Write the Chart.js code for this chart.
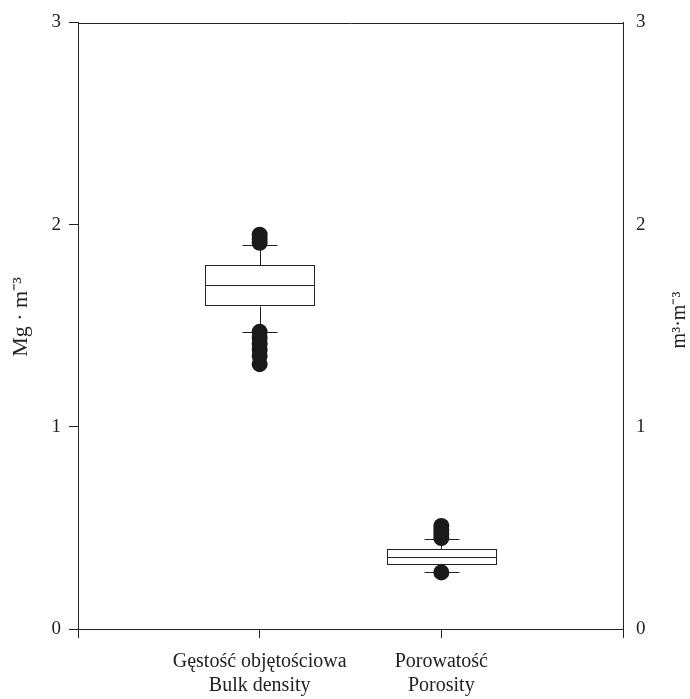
<!DOCTYPE html>
<html>
<head>
<meta charset="utf-8">
<script src="https://cdn.jsdelivr.net/npm/chart.js@4"></script>
<style>
  html, body { margin: 0; padding: 0; background: #fff; }
  #wrap { width: 690px; height: 699px; position: relative; }
</style>
</head>
<body>
<div id="wrap"><canvas id="chart"></canvas></div>
<script>
const categorias = [["Gęstość objętościowa", "Bulk density"], ["Porowatość", "Porosity"]];
const posiciones = [1, 2];
const bigoteInf = [1.47, 0.28];
const cuartil1 = [1.60, 0.32];
const mediana = [1.70, 0.355];
const cuartil3 = [1.80, 0.395];
const bigoteSup = [1.90, 0.445];
const atipicosDensidad = [1.95, 1.93, 1.91, 1.47, 1.44, 1.41, 1.38, 1.35, 1.31];
const atipicosPorosidad = [0.51, 0.49, 0.47, 0.45, 0.28];
const ticksY = [0, 1, 2, 3];

const tituloIzq = "Mg · m⁻³";
const tituloDer = "m³·m⁻³";

const COLOR = "#222";
const FUENTE = "'Liberation Serif', 'Times New Roman', serif";

// Puntos atípicos como scatter
const puntos = [
  ...atipicosDensidad.map((v) => ({ x: posiciones[0], y: v })),
  ...atipicosPorosidad.map((v) => ({ x: posiciones[1], y: v })),
];

// Plugin: cajas, bigotes, marco superior y títulos de los ejes
const cajas = {
  id: "cajas",
  beforeDatasetsDraw(chart) {
    const { ctx, chartArea, scales } = chart;
    const xs = scales.x, ys = scales.y;
    const px = (v) => Math.round(v) + 0.5;
    ctx.save();
    ctx.strokeStyle = COLOR;
    ctx.lineWidth = 1;
    posiciones.forEach((p, i) => {
      const xc = xs.getPixelForValue(p);
      const xl = xs.getPixelForValue(p - 0.3);
      const xr = xs.getPixelForValue(p + 0.3);
      const cl = xs.getPixelForValue(p - 0.095);
      const cr = xs.getPixelForValue(p + 0.095);
      const yq1 = ys.getPixelForValue(cuartil1[i]);
      const yq3 = ys.getPixelForValue(cuartil3[i]);
      const ym = ys.getPixelForValue(mediana[i]);
      const ylo = ys.getPixelForValue(bigoteInf[i]);
      const yhi = ys.getPixelForValue(bigoteSup[i]);
      ctx.beginPath();
      // bigotes
      ctx.moveTo(px(xc), px(yq3)); ctx.lineTo(px(xc), px(yhi));
      ctx.moveTo(px(xc), px(yq1)); ctx.lineTo(px(xc), px(ylo));
      ctx.moveTo(px(cl), px(yhi)); ctx.lineTo(px(cr), px(yhi));
      ctx.moveTo(px(cl), px(ylo)); ctx.lineTo(px(cr), px(ylo));
      ctx.stroke();
      // caja y mediana
      ctx.fillStyle = "#fff";
      ctx.fillRect(px(xl), px(yq3), Math.round(xr - xl), Math.round(yq1 - yq3));
      ctx.strokeRect(px(xl), px(yq3), Math.round(xr - xl), Math.round(yq1 - yq3));
      ctx.beginPath();
      ctx.moveTo(px(xl), px(ym)); ctx.lineTo(px(xr), px(ym));
      ctx.stroke();
    });
    // marco superior
    ctx.beginPath();
    ctx.moveTo(chartArea.left, px(chartArea.top));
    ctx.lineTo(chartArea.right, px(chartArea.top));
    ctx.stroke();
    ctx.restore();
  },
  afterDraw(chart) {
    const { ctx } = chart;
    ctx.save();
    ctx.fillStyle = COLOR;
    ctx.textAlign = "center";
    ctx.textBaseline = "middle";
    [[21, 317, 22, tituloIzq], [680, 320, 20, tituloDer]].forEach(([x, y, tam, t]) => {
      ctx.save();
      ctx.font = `${tam}px ${FUENTE}`;
      ctx.translate(x, y);
      ctx.rotate(-Math.PI / 2);
      ctx.fillText(t, 0, 0);
      ctx.restore();
    });
    ctx.restore();
  },
};

const ejeComun = {
  type: "linear",
  min: 0,
  max: 3,
  border: { display: true, color: COLOR, width: 1 },
};

new Chart(document.getElementById("chart"), {
  type: "scatter",
  data: {
    datasets: [
      {
        data: puntos,
        backgroundColor: "#1a1a1a",
        borderColor: "#1a1a1a",
        pointRadius: 8,
        pointHoverRadius: 8,
        borderWidth: 0,
      },
    ],
  },
  options: {
    responsive: true,
    maintainAspectRatio: false,
    animation: false,
    events: [],
    layout: { padding: { top: 21, left: 0, right: 0, bottom: 0 } },
    plugins: { legend: { display: false }, tooltip: { enabled: false } },
    scales: {
      x: {
        ...ejeComun,
        position: "bottom",
        grid: { display: true, drawOnChartArea: false, drawTicks: true, tickLength: 9, color: COLOR },
        ticks: {
          stepSize: 1,
          autoSkip: false,
          maxRotation: 0,
          padding: 12,
          color: COLOR,
          font: { family: FUENTE, size: 20, lineHeight: 1.2 },
          callback: (v) => {
            const i = posiciones.indexOf(v);
            return i >= 0 ? categorias[i] : "";
          },
        },
        afterFit: (s) => { s.height = 70; },
      },
      y: {
        ...ejeComun,
        position: "left",
        grid: { display: true, drawOnChartArea: false, drawTicks: true, tickLength: 9, color: COLOR },
        ticks: {
          stepSize: 1,
          padding: 8,
          color: COLOR,
          font: { family: FUENTE, size: 19, lineHeight: 1 },
          callback: (v) => (ticksY.includes(v) ? String(v) : ""),
        },
        afterFit: (s) => { s.width = 78; },
      },
      y2: {
        ...ejeComun,
        position: "right",
        grid: { display: false, drawOnChartArea: false, drawTicks: false },
        ticks: {
          stepSize: 1,
          padding: 13,
          color: COLOR,
          font: { family: FUENTE, size: 19, lineHeight: 1 },
          callback: (v) => (ticksY.includes(v) ? String(v) : ""),
        },
        afterFit: (s) => { s.width = 67; },
      },
    },
  },
  plugins: [cajas],
});
</script>
</body>
</html>
